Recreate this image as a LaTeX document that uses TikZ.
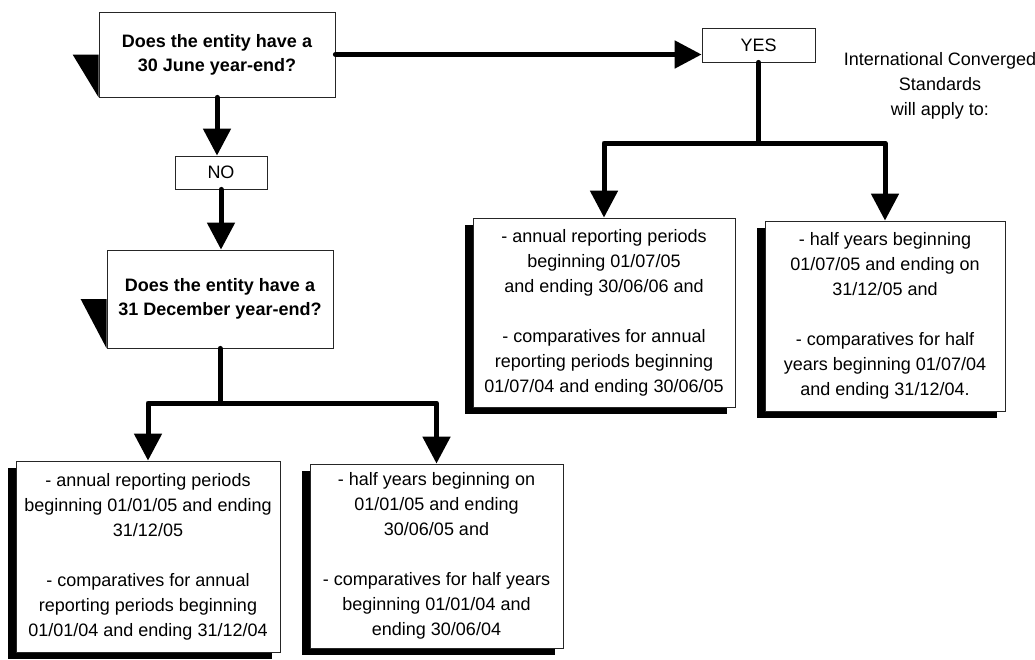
\documentclass[tikz,border=0pt]{standalone}
\usepackage{fontspec}
\setmainfont{Liberation Sans}
\usetikzlibrary{arrows.meta, shadows}

\tikzset{
	domanda/.style={draw=black!85, line width=0.8pt, fill=white, align=center, inner sep=0pt,
		font=\bfseries\fontsize{18}{24}\selectfont},
	etichetta/.style={draw=black!85, line width=0.8pt, fill=white, inner sep=0pt,
		font=\fontsize{18}{24}\selectfont},
	esito/.style={draw=black!85, line width=0.8pt, fill=white, align=center, inner sep=0pt,
		font=\fontsize{18}{25}\selectfont,
		drop shadow={shadow xshift=-8pt, shadow yshift=-7pt, fill=black, opacity=1}},
	filo/.style={line width=5pt, line cap=round, line join=round},
	freccia/.style={filo, -{Triangle[length=27pt, width=27pt]}}
}

\begin{document}
\begin{tikzpicture}[x=1pt, y=-1pt]
			\useasboundingbox (0, 0) rectangle (1035, 659);
			% domande
			\node[domanda, minimum width=236pt, minimum height=85pt] (q1) at (217, 54.5) {Does the entity have a\\30 June year-end?};
			\node[etichetta, minimum width=92pt, minimum height=33pt] (no) at (221, 172.5) {NO};
			\node[domanda, minimum width=226pt, minimum height=98pt] (q2) at (220, 299) {Does the entity have a\\31 December year-end?};
			\foreach \q in {q1, q2}
				\fill ([xshift=-26pt]\q.west) -- (\q.west) -- (\q.south west) -- cycle;
			% ramo si
			\node[etichetta, minimum width=113pt, minimum height=34pt] (yes) at (758.5, 45) {YES};
			\node[align=center, font=\fontsize{18}{25}\selectfont] (ics) at (940, 86) {International Converged\\Standards\\will apply to:};
			\node[esito, minimum width=262pt, minimum height=189pt] (r1) at (604, 312.5) {- annual reporting periods\\beginning 01/07/05\\and ending 30/06/06 and\\[25pt]- comparatives for annual\\reporting periods beginning\\01/07/04 and ending 30/06/05};
			\node[esito, minimum width=240pt, minimum height=190pt] (r2) at (885, 316) {- half years beginning\\01/07/05 and ending on\\31/12/05 and\\[25pt]- comparatives for half\\years beginning 01/07/04\\and ending 31/12/04.};
			% ramo no
			\node[esito, minimum width=264pt, minimum height=191pt] (b1) at (148, 556.5) {- annual reporting periods\\beginning 01/01/05 and ending\\31/12/05\\[25pt]- comparatives for annual\\reporting periods beginning\\01/01/04 and ending 31/12/04};
			\node[esito, minimum width=253pt, minimum height=184pt] (b2) at (436.5, 556) {- half years beginning on\\01/01/05 and ending\\30/06/05 and\\[25pt]- comparatives for half years\\beginning 01/01/04 and\\ending 30/06/04};
			% frecce
			\draw[freccia] (q1.east) -- (q1.east -| yes.west);
			\coordinate (ysplit) at (758.5, 143);
			\draw[filo] (yes.south) -- (ysplit);
			\draw[freccia] (ysplit) -| (r1.north);
			\draw[freccia] (ysplit) -| (r2.north);
			\draw[freccia] (q1.south) -- (q1.south |- no.north);
			\draw[freccia] (no.south) -- (no.south |- q2.north);
			\coordinate (qsplit) at (220, 403);
			\draw[filo] (q2.south) -- (qsplit);
			\draw[freccia] (qsplit) -| (b1.north);
			\draw[freccia] (qsplit) -| (b2.north);
		\end{tikzpicture}
\end{document}
